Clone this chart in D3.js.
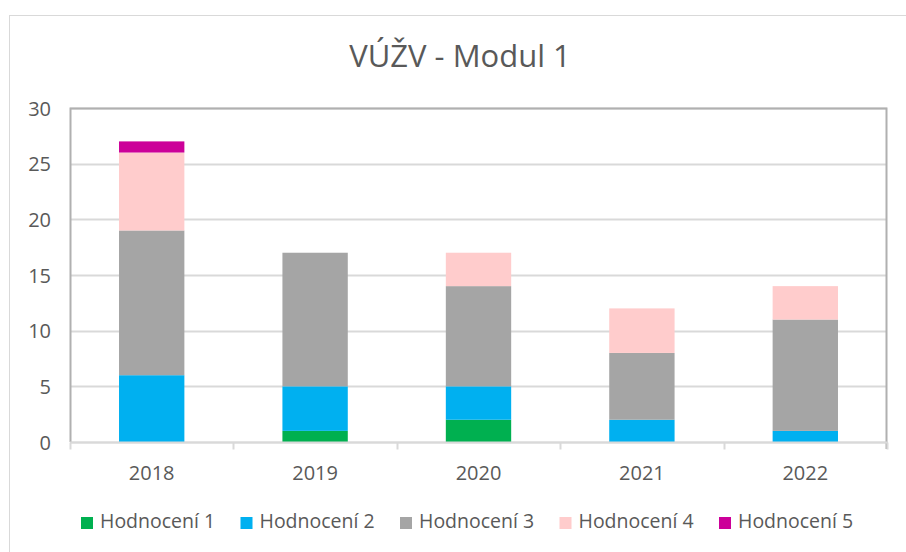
<!DOCTYPE html>
<html>
<head>
<meta charset="utf-8">
<script src="https://cdn.jsdelivr.net/npm/d3@7"></script>
<style>
    body { margin: 0; background: #fff; }
    text { font-family: "Open Sans", "Noto Sans", sans-serif; }
</style>
</head>
<body>
<div id="chart"></div>
<script>
// data
const years = ["2018", "2019", "2020", "2021", "2022"];
const seriesNames = ["Hodnocení 1", "Hodnocení 2", "Hodnocení 3", "Hodnocení 4", "Hodnocení 5"];
const hodnoceni1 = [0, 1, 2, 0, 0];
const hodnoceni2 = [6, 4, 3, 2, 1];
const hodnoceni3 = [13, 12, 9, 6, 10];
const hodnoceni4 = [7, 0, 3, 4, 3];
const hodnoceni5 = [1, 0, 0, 0, 0];
const yTicks = [0, 5, 10, 15, 20, 25, 30];
const colors = ["#00b050", "#00b0f0", "#a5a5a5", "#ffcccc", "#cc0099"];

const W = 906, H = 552;
const margin = { top: 108, right: 19, bottom: 110, left: 70 };
const width = W - margin.left - margin.right;
const height = H - margin.top - margin.bottom;

const table = years.map((y, i) => ({
    year: y,
    "Hodnocení 1": hodnoceni1[i],
    "Hodnocení 2": hodnoceni2[i],
    "Hodnocení 3": hodnoceni3[i],
    "Hodnocení 4": hodnoceni4[i],
    "Hodnocení 5": hodnoceni5[i],
}));
const stacked = d3.stack().keys(seriesNames)(table);

const svgRoot = d3.select("#chart")
    .append("svg")
    .attr("width", W)
    .attr("height", H);

// outer chart border
svgRoot.append("rect")
    .attr("x", 9.5).attr("y", 15.5)
    .attr("width", W + 20).attr("height", H + 20)
    .attr("fill", "none")
    .attr("stroke", "#d9d9d9");

svgRoot.append("text")
    .attr("x", 460).attr("y", 67)
    .attr("text-anchor", "middle")
    .attr("font-size", 31)
    .attr("fill", "#595959")
    .text("VÚŽV - Modul 1");

const svg = svgRoot.append("g")
    .attr("transform", `translate(${margin.left},${margin.top})`);

const x = d3.scaleBand()
    .domain(years)
    .range([0, width])
    .paddingInner(0.6)
    .paddingOuter(0.3);

const y = d3.scaleLinear()
    .domain([0, 30])
    .range([height, 0]);

// gridlines
svg.append("g")
    .selectAll("line")
    .data(yTicks)
    .enter()
    .append("line")
    .attr("x1", 0).attr("x2", width)
    .attr("y1", (d) => Math.round(y(d)) + 0.5)
    .attr("y2", (d) => Math.round(y(d)) + 0.5)
    .attr("stroke", "#d9d9d9")
    .attr("stroke-width", 2);

// bars
svg.append("g")
    .selectAll("g")
    .data(stacked)
    .enter()
    .append("g")
    .attr("fill", (d, i) => colors[i])
    .selectAll("rect")
    .data((d) => d)
    .enter()
    .append("rect")
    .attr("x", (d) => x(d.data.year))
    .attr("y", (d) => y(d[1]))
    .attr("width", x.bandwidth())
    .attr("height", (d) => y(d[0]) - y(d[1]));

// plot frame (top, left, right)
svg.append("path")
    .attr("d", `M0.5,${height} V0.5 H${width - 0.5} V${height + 7}`)
    .attr("fill", "none")
    .attr("stroke", "#b0b0b0")
    .attr("stroke-width", 2);

// x axis with ticks between categories
const xAxis = svg.append("g")
    .attr("transform", `translate(0,${Math.round(height) + 0.5})`);
xAxis.append("line")
    .attr("x1", 0).attr("x2", width)
    .attr("stroke", "#d9d9d9").attr("stroke-width", 2);
xAxis.selectAll(".sep")
    .data(d3.range(years.length + 1))
    .enter()
    .append("line")
    .attr("class", "sep")
    .attr("x1", (d) => Math.round(d * width / years.length) + 0.5)
    .attr("x2", (d) => Math.round(d * width / years.length) + 0.5)
    .attr("y1", 0).attr("y2", 7)
    .attr("stroke", "#d9d9d9").attr("stroke-width", 2);
xAxis.selectAll(".lbl")
    .data(years)
    .enter()
    .append("text")
    .attr("class", "lbl")
    .attr("x", (d) => x(d) + x.bandwidth() / 2)
    .attr("y", 37)
    .attr("text-anchor", "middle")
    .attr("font-size", 20)
    .attr("fill", "#595959")
    .text((d) => d);

// y axis labels
const yAxis = svg.append("g")
    .call(d3.axisLeft(y).tickValues(yTicks).tickSize(0).tickPadding(19));
yAxis.select(".domain").remove();
yAxis.selectAll("text")
    .attr("font-size", 20)
    .attr("fill", "#595959")
    .attr("dy", "0.36em")
    .attr("font-family", null);

// legend
const legend = svgRoot.append("g")
    .attr("transform", "translate(81,522)");
const item = legend.selectAll("g")
    .data(seriesNames)
    .enter()
    .append("g")
    .attr("transform", (d, i) => `translate(${i * 159.5},0)`);
item.append("rect")
    .attr("x", 0).attr("y", -5)
    .attr("width", 12).attr("height", 12)
    .attr("fill", (d, i) => colors[i]);
item.append("text")
    .attr("x", 19).attr("y", 6)
    .attr("font-size", 19.5)
    .attr("fill", "#595959")
    .text((d) => d);
</script>
</body>
</html>
